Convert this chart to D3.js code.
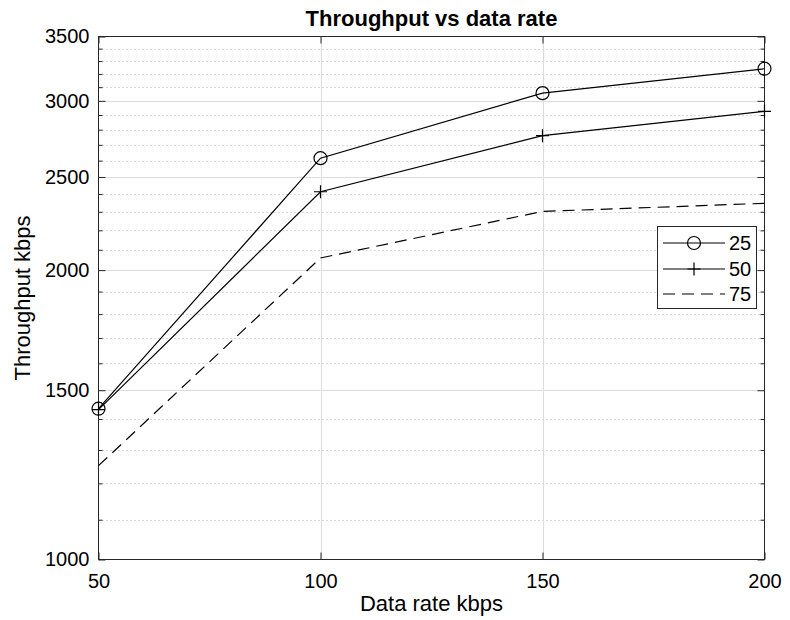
<!DOCTYPE html>
<html>
<head>
<meta charset="utf-8">
<script src="https://cdn.jsdelivr.net/npm/d3@7"></script>
<style>
  body { margin: 0; background: #fff; }
  text { font-family: "Liberation Sans", Arial, sans-serif; fill: #000; }
</style>
</head>
<body>
<div id="chart"></div>
<script>
// data
var dataRate = [50, 100, 150, 200];
var tp25 = [1435, 2615, 3056, 3240];
var tp50 = [1432, 2413, 2760, 2926];
var tp75 = [1252, 2059, 2302, 2347];
var seriesNames = ["25", "50", "75"];

var xTicks = [50, 100, 150, 200];
var yTicks = [1000, 1500, 2000, 2500, 3000, 3500];
var yMinor = [1100, 1200, 1300, 1400, 1600, 1700, 1800, 1900, 2100, 2200,
              2300, 2400, 2600, 2700, 2800, 2900, 3100, 3200, 3300, 3400];

(function(){
    var width = 790;
    var height = 620;
    var left = 98.5, right = 764.5, top = 36.5, bottom = 559.5;

    var svg = d3.select("#chart")
        .append("svg")
        .attr("width", width)
        .attr("height", height);

    var x = d3.scaleLinear().domain([50, 200]).range([left, right]);
    var y = d3.scaleLog().domain([1000, 3500]).range([bottom, top]);

    // minor grid (dotted)
    svg.append("g").selectAll("line")
        .data(yMinor)
        .enter().append("line")
        .attr("x1", left).attr("x2", right)
        .attr("y1", function(d){ return Math.round(y(d)) + 0.5 })
        .attr("y2", function(d){ return Math.round(y(d)) + 0.5 })
        .attr("stroke", "#b4b4b4")
        .attr("stroke-width", 1)
        .attr("stroke-dasharray", "1,3");

    // major grid
    svg.append("g").selectAll("line")
        .data(yTicks.slice(1, -1))
        .enter().append("line")
        .attr("x1", left).attr("x2", right)
        .attr("y1", function(d){ return Math.round(y(d)) + 0.5 })
        .attr("y2", function(d){ return Math.round(y(d)) + 0.5 })
        .attr("stroke", "#dcdcdc");
    svg.append("g").selectAll("line")
        .data(xTicks.slice(1, -1))
        .enter().append("line")
        .attr("y1", top).attr("y2", bottom)
        .attr("x1", function(d){ return Math.round(x(d)) + 0.5 })
        .attr("x2", function(d){ return Math.round(x(d)) + 0.5 })
        .attr("stroke", "#dcdcdc");

    // axes, ticks inside
    var yAxis = d3.axisLeft(y).tickValues(yTicks).tickFormat(d3.format("d"))
        .tickSizeInner(-7).tickSizeOuter(0).tickPadding(9);
    var yAxisMinor = d3.axisLeft(y).tickValues(yMinor).tickFormat("")
        .tickSizeInner(-4).tickSizeOuter(0);
    var yAxisR = d3.axisRight(y).tickValues(yTicks).tickFormat("")
        .tickSizeInner(-7).tickSizeOuter(0);
    var yAxisRMinor = d3.axisRight(y).tickValues(yMinor).tickFormat("")
        .tickSizeInner(-4).tickSizeOuter(0);
    var xAxis = d3.axisBottom(x).tickValues(xTicks).tickFormat(d3.format("d"))
        .tickSizeInner(-7).tickSizeOuter(0).tickPadding(14);
    var xAxisTop = d3.axisTop(x).tickValues(xTicks).tickFormat("")
        .tickSizeInner(-7).tickSizeOuter(0);

    function styleAxis(g){
        g.select(".domain").remove();
        g.selectAll("line").attr("stroke", "#262626");
        g.selectAll("text").attr("font-size", "20px")
            .attr("font-family", "Liberation Sans, Arial, sans-serif")
            .attr("fill", "#000");
    }

    svg.append("g").attr("transform", "translate(" + left + ",0)").call(yAxis).call(styleAxis);
    svg.append("g").attr("transform", "translate(" + left + ",0)").call(yAxisMinor).call(styleAxis);
    svg.append("g").attr("transform", "translate(" + right + ",0)").call(yAxisR).call(styleAxis);
    svg.append("g").attr("transform", "translate(" + right + ",0)").call(yAxisRMinor).call(styleAxis);
    svg.append("g").attr("transform", "translate(0," + bottom + ")").call(xAxis).call(styleAxis);
    svg.append("g").attr("transform", "translate(0," + top + ")").call(xAxisTop).call(styleAxis);

    // box
    svg.append("rect")
        .attr("x", left).attr("y", top)
        .attr("width", right - left).attr("height", bottom - top)
        .attr("fill", "none")
        .attr("stroke", "#262626")
        .attr("stroke-width", 1);

    var series = [tp25, tp50, tp75];
    var line = d3.line()
        .x(function(d, i){ return x(dataRate[i]) })
        .y(function(d){ return y(d) });

    var plot = svg.append("g");
    series.forEach(function(s, k){
        plot.append("path")
            .datum(s)
            .attr("d", line)
            .attr("fill", "none")
            .attr("stroke", "#000")
            .attr("stroke-width", 1.2)
            .attr("stroke-dasharray", k == 2 ? "12,7" : null);
    });

    function circleMarker(g, cx, cy){
        g.append("circle")
            .attr("cx", cx).attr("cy", cy).attr("r", 6.5)
            .attr("fill", "none").attr("stroke", "#000").attr("stroke-width", 1.2);
    }
    function plusMarker(g, cx, cy){
        g.append("path")
            .attr("d", "M" + (cx - 6.5) + "," + cy + "H" + (cx + 6.5) +
                       "M" + cx + "," + (cy - 6.5) + "V" + (cy + 6.5))
            .attr("fill", "none").attr("stroke", "#000").attr("stroke-width", 1.2);
    }

    tp25.forEach(function(d, i){ circleMarker(plot, x(dataRate[i]), y(d)) });
    tp50.forEach(function(d, i){ plusMarker(plot, x(dataRate[i]), y(d)) });

    // legend
    var lg = svg.append("g");
    lg.append("rect")
        .attr("x", 657.5).attr("y", 226.5)
        .attr("width", 99).attr("height", 82)
        .attr("fill", "#fff").attr("stroke", "#262626");
    var rows = [243, 269, 294];
    seriesNames.forEach(function(name, k){
        lg.append("line")
            .attr("x1", 663).attr("x2", 725)
            .attr("y1", rows[k]).attr("y2", rows[k])
            .attr("stroke", "#000").attr("stroke-width", 1.2)
            .attr("stroke-dasharray", k == 2 ? "12,7" : null);
        if(k == 0) circleMarker(lg, 694, rows[k]);
        if(k == 1) plusMarker(lg, 694, rows[k]);
        lg.append("text")
            .attr("x", 729).attr("y", rows[k])
            .attr("dy", "0.35em")
            .attr("font-size", "20px")
            .text(name);
    });

    // title and labels
    svg.append("text")
        .attr("x", (left + right) / 2).attr("y", 26)
        .attr("text-anchor", "middle")
        .attr("font-size", "22px")
        .attr("font-weight", "bold")
        .text("Throughput vs data rate");
    svg.append("text")
        .attr("x", (left + right) / 2).attr("y", 611)
        .attr("text-anchor", "middle")
        .attr("font-size", "22px")
        .text("Data rate kbps");
    svg.append("text")
        .attr("transform", "translate(30," + (top + bottom) / 2 + ") rotate(-90)")
        .attr("text-anchor", "middle")
        .attr("font-size", "22px")
        .text("Throughput kbps");
})();
</script>
</body>
</html>
